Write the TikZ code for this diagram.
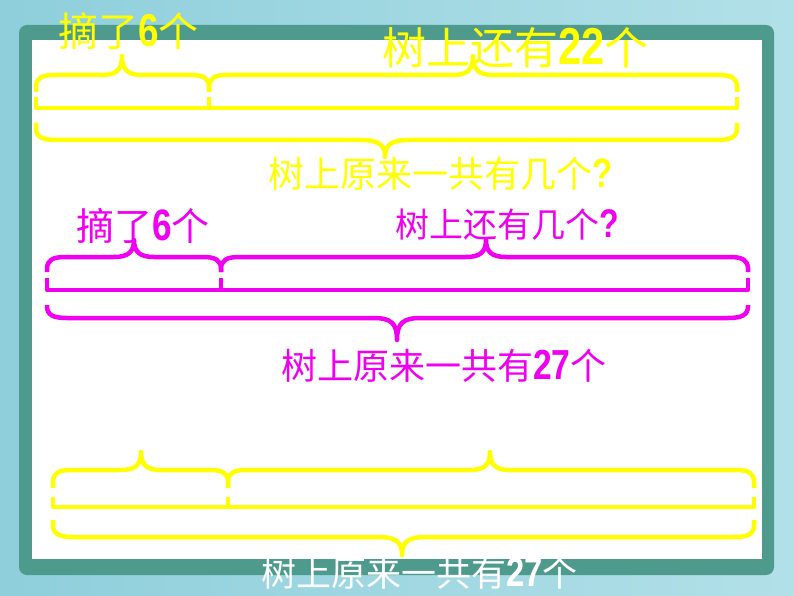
\documentclass[tikz,border=0pt]{standalone}
\usepackage{fontspec}
\newfontfamily\cjk{Noto Sans CJK SC}
\newfontfamily\dig[FakeStretch=0.8]{Liberation Sans}
\definecolor{bgA}{RGB}{142,207,219}
\definecolor{bgB}{RGB}{178,224,232}
\definecolor{frm}{RGB}{78,154,140}
\definecolor{yel}{RGB}{255,255,0}
\definecolor{mag}{RGB}{240,0,240}
\newcommand\dg[2]{{\dig\bfseries\fontsize{#1}{#1}\selectfont #2}}
% brace with tip upward: color, xL, xR, xT, yEnd, yArm, yTip
\newcommand\ubrace[7]{%
  \draw[bracestyle,#1] (#2,#5) -- (#2,#6+12) .. controls (#2,#6+3) and (#2+6,#6) .. (#2+18,#6)
    -- (#4-20,#6) .. controls (#4-6,#6) and (#4,#6-5) .. (#4,#7)
    .. controls (#4,#6-5) and (#4+6,#6) .. (#4+20,#6)
    -- (#3-18,#6) .. controls (#3-6,#6) and (#3,#6+3) .. (#3,#6+12) -- (#3,#5);}
% brace with tip downward
\newcommand\dbrace[7]{%
  \draw[bracestyle,#1] (#2,#5) -- (#2,#6-12) .. controls (#2,#6-3) and (#2+6,#6) .. (#2+20,#6)
    -- (#4-24,#6) .. controls (#4-6,#6) and (#4,#6+5) .. (#4,#7)
    .. controls (#4,#6+5) and (#4+6,#6) .. (#4+24,#6)
    -- (#3-20,#6) .. controls (#3-6,#6) and (#3,#6-3) .. (#3,#6-12) -- (#3,#5);}
% segment line with ticks: color, xL, xM, xR, yTop, yLine
\newcommand\segline[6]{%
  \draw[bracestyle,#1] (#2,#5) -- (#2,#6) -- (#4,#6) -- (#4,#5);
  \draw[bracestyle,#1] (#3,#5) -- (#3,#6);}
\tikzset{
  bracestyle/.style={line width=4.5pt, line cap=butt, line join=round},
  lbl/.style={anchor=west, inner sep=0pt, font=\cjk}
}
\begin{document}
\begin{tikzpicture}[x=1pt,y=-1pt]
\useasboundingbox (0,0) rectangle (794,596);
\shade[left color=bgA, right color=bgB] (0,0) rectangle (794,596);
\fill[frm, rounded corners=8pt] (19,25) rectangle (774,575);
\fill[white] (32,40) rectangle (762,559);

% ---- set 1 (yellow)
\segline{yel}{36}{209}{737}{97}{108}
\ubrace{yel}{36}{209}{122}{92}{75}{56}
\ubrace{yel}{209}{737}{473}{92}{75}{56}
\dbrace{yel}{36}{737}{385}{123}{140}{157}
\node[lbl, text=yel] (t1) at (58,31) {\fontsize{40}{40}\selectfont 摘了\dg{46}{6}个};
\node[lbl, text=yel] (t2) at (382,48) {\fontsize{44}{44}\selectfont 树上还有\dg{52}{22}个};
\node[lbl, text=yel] (t3) at (268,174) {\fontsize{36}{36}\selectfont 树上原来一共有几个\dg{41}{?}};

% ---- set 2 (magenta)
\segline{mag}{47}{221}{748}{278}{290}
\ubrace{mag}{47}{221}{134}{272}{257}{240}
\ubrace{mag}{221}{748}{486}{272}{257}{240}
\dbrace{mag}{47}{748}{397}{305}{318}{340}
\node[lbl, text=mag] (t4) at (76,226) {\fontsize{38}{38}\selectfont 摘了\dg{44}{6}个};
\node[lbl, text=mag] (t5) at (395,225) {\fontsize{34}{34}\selectfont 树上还有几个\dg{40}{?}};
\node[lbl, text=mag] (t6) at (281,366) {\fontsize{36}{36}\selectfont 树上原来一共有\dg{42}{27}个};

% ---- set 3 (yellow, no labels)
\segline{yel}{53}{228}{754}{497}{507}
\ubrace{yel}{53}{228}{141}{488}{470}{452}
\ubrace{yel}{228}{754}{490}{488}{470}{452}
\dbrace{yel}{53}{754}{402}{520}{537}{555}
\node[lbl, text=white] (t7) at (261,573) {\fontsize{35}{35}\selectfont 树上原来一共有\dg{41}{27}个};
\end{tikzpicture}
\end{document}
